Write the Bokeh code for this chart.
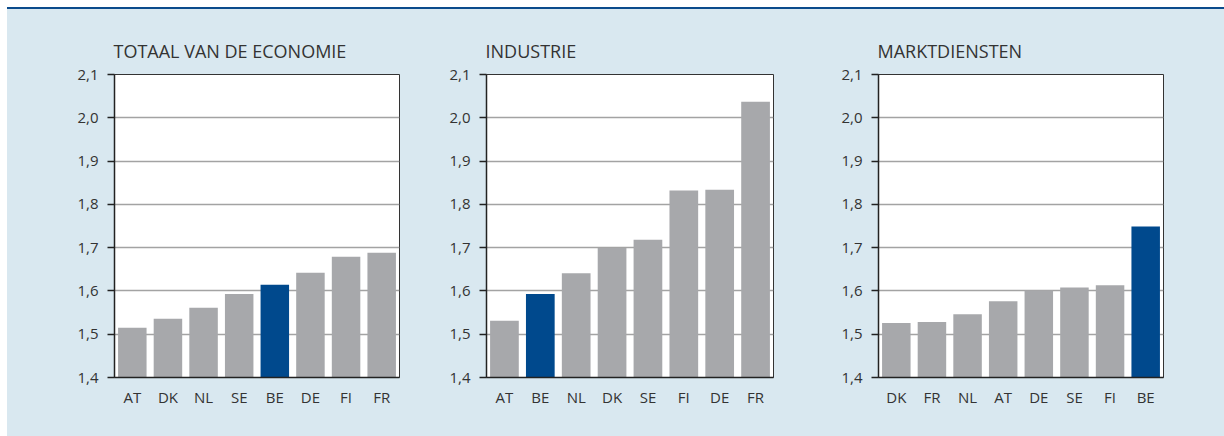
from bokeh.plotting import figure
from bokeh.models import (FactorRange, Range1d, FixedTicker, CustomJSTickFormatter,
                          Title, Div, ColumnDataSource)
from bokeh.layouts import column, row
from bokeh.embed import file_html
from bokeh.resources import INLINE

# ---- data ----
titles = ["TOTAAL VAN DE ECONOMIE", "INDUSTRIE", "MARKTDIENSTEN"]

cats_total = ["AT", "DK", "NL", "SE", "BE", "DE", "FI", "FR"]
vals_total = [1.515, 1.536, 1.561, 1.593, 1.614, 1.642, 1.679, 1.688]

cats_ind = ["AT", "BE", "NL", "DK", "SE", "FI", "DE", "FR"]
vals_ind = [1.531, 1.593, 1.641, 1.699, 1.718, 1.832, 1.834, 2.037]

cats_mkt = ["DK", "FR", "NL", "AT", "DE", "SE", "FI", "BE"]
vals_mkt = [1.526, 1.528, 1.546, 1.576, 1.601, 1.608, 1.613, 1.749]

y_ticks = [1.4, 1.5, 1.6, 1.7, 1.8, 1.9, 2.0, 2.1]
y_min, y_max = 1.4, 2.1
highlight = "BE"

# ---- style ----
BG = "#d9e8f0"
GRAY = "#a7a8ab"
BLUE = "#00498d"
LINE_BLUE = "#0b4b8c"
TXT = "#333333"
FONT = "Open Sans"

fmt = CustomJSTickFormatter(code="return tick.toFixed(1).replace('.', ',');")

FIG_H = 427


def panel(title, cats, vals, width, left, right):
    p = figure(width=width, height=FIG_H, x_range=FactorRange(*cats, range_padding=0),
               y_range=Range1d(y_min, y_max), output_backend="svg",
               toolbar_location=None, min_border_left=left, min_border_right=right,
               min_border_top=65, min_border_bottom=FIG_H - 65 - 303, margin=0)
    p.title = Title(text=title, align="left", text_font=FONT, text_font_size="18px",
                    text_font_style="normal", text_color=TXT, standoff=23, offset=-1)
    colors = [BLUE if c == highlight else GRAY for c in cats]
    src = ColumnDataSource(dict(x=cats, top=vals, color=colors))
    p.vbar(x="x", top="top", bottom=y_min, width=0.8, source=src,
           fill_color="color", line_color=None)
    p.background_fill_color = "white"
    p.border_fill_color = BG
    p.outline_line_color = "#333333"
    p.outline_line_width = 1
    p.xgrid.grid_line_color = None
    p.ygrid.grid_line_color = "#a3a3a3"
    p.ygrid.grid_line_width = 1.3
    p.yaxis.ticker = FixedTicker(ticks=y_ticks)
    p.yaxis.formatter = fmt
    for ax in (p.xaxis[0], p.yaxis[0]):
        ax.axis_line_color = "#222222"
        ax.axis_line_width = 1.5
        ax.major_label_text_font = FONT
        ax.major_label_text_font_size = "15px"
        ax.major_label_text_color = TXT
        ax.minor_tick_line_color = None
    p.yaxis.major_tick_line_color = "#222222"
    p.yaxis.major_tick_line_width = 1.5
    p.yaxis.major_tick_out = 7
    p.yaxis.major_tick_in = 0
    p.yaxis.major_label_standoff = 9
    p.xaxis.major_tick_line_color = None
    p.xaxis.major_label_standoff = 3
    return p


f1 = panel(titles[0], cats_total, vals_total, 433, 107, 41)
f2 = panel(titles[1], cats_ind, vals_ind, 390, 46, 57)
f3 = panel(titles[2], cats_mkt, vals_mkt, 394, 48, 61)

line = Div(width=1217, height=2, margin=0, styles={"background-color": LINE_BLUE})
panels = row(f1, f2, f3, spacing=0, margin=0, styles={"background-color": BG})
layout = column(line, panels, spacing=0, margin=(7, 0, 0, 7),
                styles={"background-color": BG})

open("out.html", "w").write(file_html(layout, INLINE))
